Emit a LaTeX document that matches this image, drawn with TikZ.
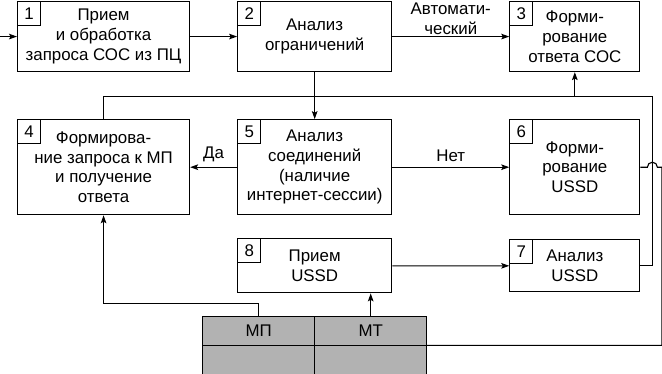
\documentclass[tikz,border=0pt]{standalone}
\usepackage{fontspec}
\setmainfont{Liberation Sans}
\usetikzlibrary{arrows.meta, positioning}

\begin{document}
\begin{tikzpicture}[node distance=1.175cm, line width=0.8pt,
      font=\fontsize{12pt}{14pt}\selectfont,
      box/.style={draw, align=center, inner sep=2pt},
      tag/.style={draw, anchor=north west, minimum width=0.575cm,
                  minimum height=0.6cm, inner sep=0pt},
      cell/.style={draw, fill=gray!60, outer sep=0pt, inner sep=0pt,
                   minimum width=2.8cm, minimum height=0.725cm},
      arr/.style={-{Stealth[length=2mm, width=1.4mm, inset=0.4mm]}}]
    \useasboundingbox (0,0) rectangle (16.55,-9.325);
    \node[box, minimum width=4.3cm, minimum height=1.75cm, anchor=north west]
         (b1) at (0.425,-0.025) {Прием\\и обработка\\запроса СОС из ПЦ};
    \node[box, minimum width=3.85cm, minimum height=1.75cm, right=of b1]
         (b2) {Анализ\\ограничений};
    \node[box, minimum width=3.25cm, minimum height=1.75cm, right=2.925cm of b2]
         (b3) {Форми-\\рование\\ответа СОС};
    \node[box, minimum width=4.3cm, minimum height=2.375cm, below=of b1]
         (b4) {Формирова-\\ние запроса к МП\\и получение\\ответа};
    \node[box, minimum width=3.85cm, minimum height=2.375cm, below=of b2]
         (b5) {Анализ\\соединений\\(наличие\\интернет-сессии)};
    \node[box, minimum width=3.25cm, minimum height=2.375cm, below=of b3]
         (b6) {Форми-\\рование\\USSD};
    \node[box, minimum width=3.25cm, minimum height=1.3cm, below=0.6cm of b6]
         (b7) {Анализ\\USSD};
    \node[box, minimum width=3.85cm, minimum height=1.35cm, below=0.575cm of b5]
         (b8) {Прием\\USSD};
    \foreach \n in {1,...,8}
      \node[tag] (t\n) at (b\n.north west) {\n};

    \node[cell, anchor=north east] (mp) at ([yshift=-0.575cm]b8.south) {МП};
    \node[cell, right=0cm of mp] (mt) {МТ};
    \node[cell, below=0cm of mp] (mp2) {};
    \node[cell, below=0cm of mt] (mt2) {};

    \coordinate[left=0.425cm of b1.west] (in);
    \draw[arr] (in) -- (b1);
    \draw[arr] (b1) -- (b2);
    \draw[arr] (b2) -- node[above, align=center, inner sep=1pt] (lauto)
         {Автомати-\\ческий} (b3);
    \draw[arr] (b2) -- (b5);
    \draw[arr] (b5) -- node[above] (lyes) {Да} (b4);
    \draw[arr] (b5) -- node[above] (lno) {Нет} (b6);
    \draw[arr] (b8) -- (b7);
    \draw[arr] (mt.north) -- (mt.north |- b8.south);
    \draw[arr] (mp.north) -- ++(0,0.325) -| (b4.south);

    \coordinate[above=0.575cm of b4.north] (bus);
    \coordinate[right=0.3cm of b7.east] (busr);
    \draw (b7.east) -- (busr) |- (bus) -- (b4.north);
    \draw[arr] (b3.south |- bus) -- (b3.south);
    \coordinate[right=0.54cm of b6.east] (far);
    \draw (b6.east) -- ([xshift=-0.125cm]busr |- b6.east)
         arc[start angle=180, end angle=0, radius=0.125cm] -- (far)
         |- (mt.south east);
  \end{tikzpicture}
\end{document}
